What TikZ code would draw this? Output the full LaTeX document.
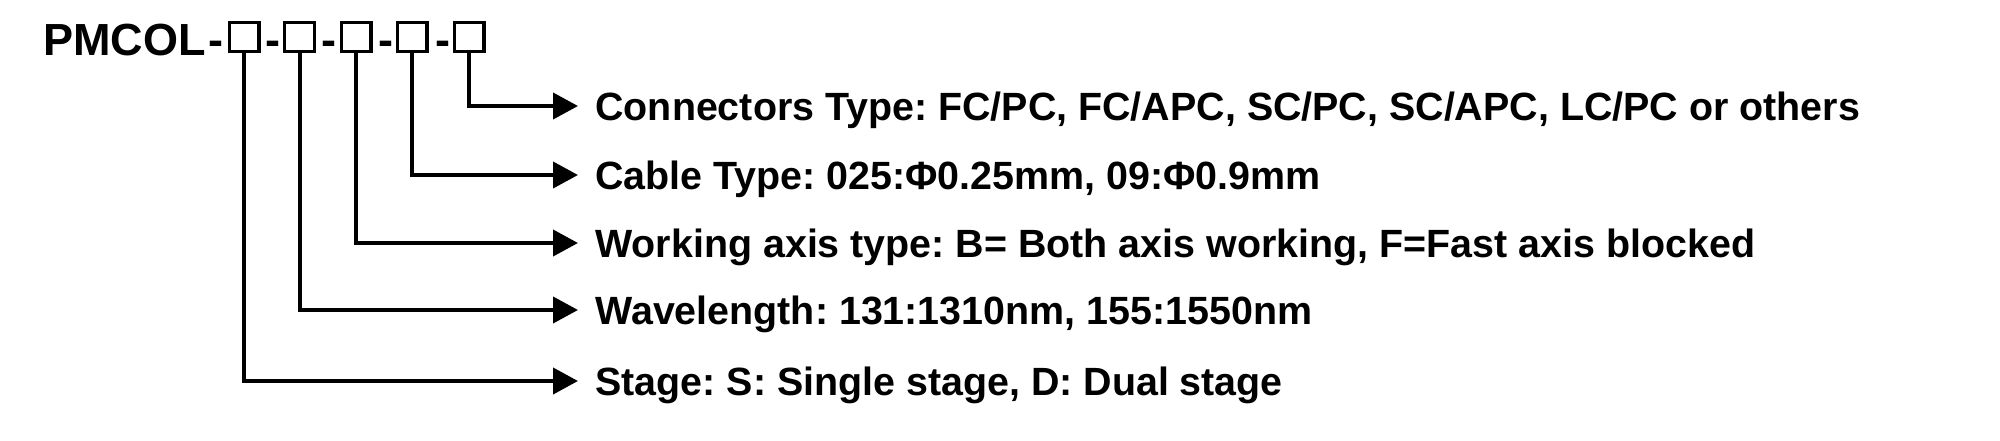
\documentclass[tikz,border=0pt]{standalone}
\usepackage{fontspec}
\usetikzlibrary{arrows.meta}
\newfontfamily\lblfont{Liberation Sans}
\frenchspacing
\begin{document}
\begin{tikzpicture}[x=0.5pt,y=-0.5pt,
  boxnode/.style={draw,line width=1.65pt,minimum width=14.85pt,minimum height=14.35pt,inner sep=0pt},
  ttl/.style={inner sep=0pt,font=\lblfont\bfseries\fontsize{22.5pt}{24pt}\selectfont},
  lbl/.style={anchor=west,inner xsep=8.5pt,inner ysep=0pt,text height=14.1pt,text depth=0pt,
    font=\lblfont\bfseries\fontsize{19.7pt}{22pt}\selectfont\frenchspacing},
  conn/.style={line width=2pt,-{Triangle[length=12.5pt,width=13pt]}}]
\useasboundingbox (0,0) rectangle (2000,440);
\fill[white] (0,0) rectangle (2000,440);
% title
\node[ttl,anchor=base west] (title) at (43,55) {PMCOL};
% hyphens
\node[ttl,anchor=base] (h1) at (216,55) {-};
\node[ttl,anchor=base] (h2) at (272.5,55) {-};
\node[ttl,anchor=base] (h3) at (329,55) {-};
\node[ttl,anchor=base] (h4) at (386,55) {-};
\node[ttl,anchor=base] (h5) at (442.5,55) {-};
% boxes
\node[boxnode] (b1) at (244,37) {};
\node[boxnode] (b2) at (299.5,37) {};
\node[boxnode] (b3) at (356,37) {};
\node[boxnode] (b4) at (412,37) {};
\node[boxnode] (b5) at (469,37) {};
% labels
\node[lbl] (l5) at (578,106) {Connectors Type: FC/PC, FC/APC, SC/PC, SC/APC, LC/PC or others};
\node[lbl] (l4) at (578,175) {Cable Type: 025:Φ0.25mm, 09:Φ0.9mm};
\node[lbl] (l3) at (578,243) {Working axis type: B= Both axis working, F=Fast axis blocked};
\node[lbl] (l2) at (578,310) {Wavelength: 131:1310nm, 155:1550nm};
\node[lbl] (l1) at (578,381) {Stage: S: Single stage, D: Dual stage};
% connectors
\draw[conn] (b5.south) |- (l5.west);
\draw[conn] (b4.south) |- (l4.west);
\draw[conn] (b3.south) |- (l3.west);
\draw[conn] (b2.south) |- (l2.west);
\draw[conn] (b1.south) |- (l1.west);
\end{tikzpicture}
\end{document}
